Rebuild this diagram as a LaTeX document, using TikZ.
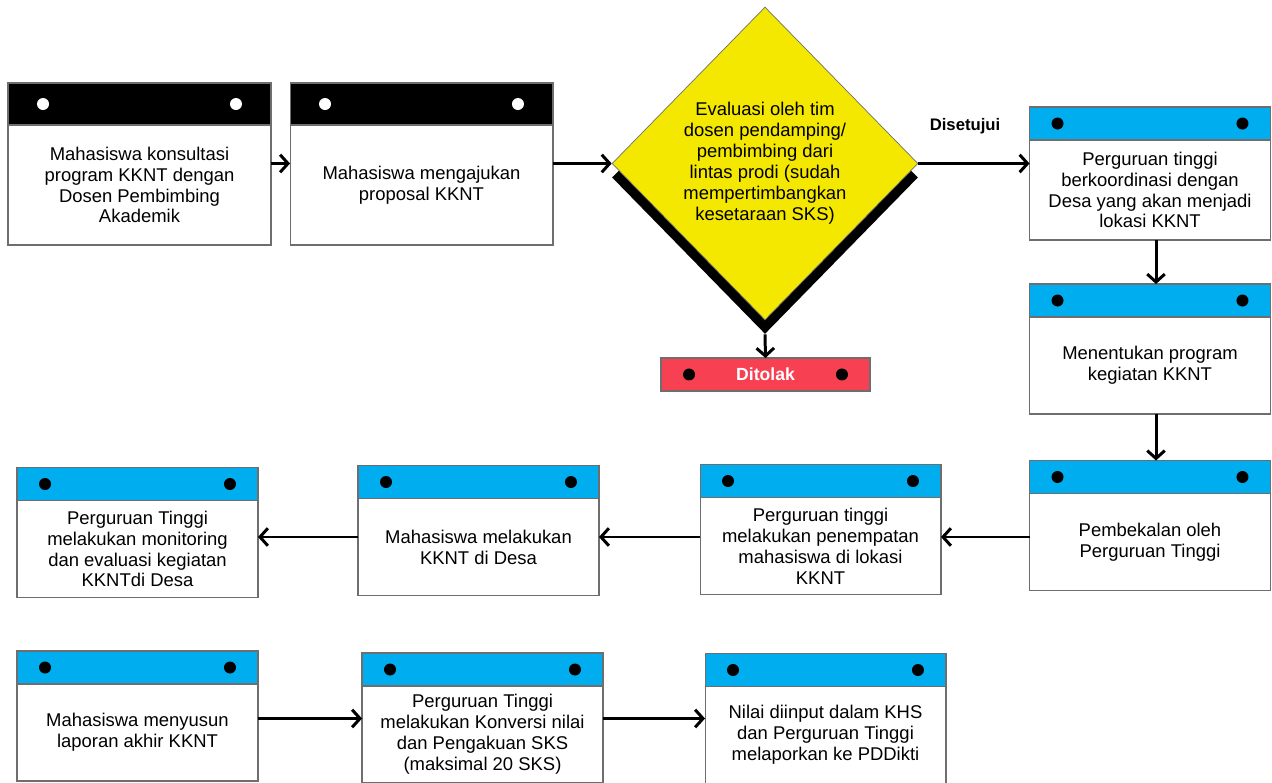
\documentclass[tikz,border=0pt]{standalone}
\usepackage{fontspec}
\setmainfont{Liberation Sans}
\usetikzlibrary{shapes.geometric,arrows.meta,positioning}
\definecolor{headblue}{RGB}{0,174,239}
\definecolor{decyellow}{RGB}{245,232,0}
\definecolor{rejectred}{RGB}{247,65,82}
\definecolor{edgegray}{RGB}{110,110,110}

\begin{document}
\begin{tikzpicture}[x=0.02cm, y=-0.02cm,
    body/.style={draw=edgegray, line width=0.6pt, fill=white, minimum width=4.82cm,
        minimum height=1.94cm, align=center, inner sep=0pt, outer sep=0pt,
        font=\fontsize{10.5}{11.9}\selectfont},
    head/.style={draw=edgegray, line width=0.6pt, fill=#1, minimum width=4.82cm,
        minimum height=0.66cm, inner sep=0pt, outer sep=0pt},
    flow/.style={line width=1.7pt, -{Straight Barb[length=4.5pt, width=10pt]}},
    lbl/.style={font=\fontsize{9.5}{11}\selectfont\bfseries}]
    \useasboundingbox (0,0) rectangle (1272,783);

    % First row
    \node[body, minimum width=5.26cm, minimum height=2.4cm] (b1) at (139.5,185)
        {Mahasiswa konsultasi\\program KKNT dengan\\Dosen Pembimbing\\Akademik};
    \node[head=black, minimum width=5.26cm, minimum height=0.84cm, above=0pt of b1] (h1) {};
    \node[body, minimum width=5.26cm, minimum height=2.4cm] (b2) at (421.5,185)
        {Mahasiswa mengajukan\\proposal KKNT};
    \node[head=black, minimum width=5.26cm, minimum height=0.84cm, above=0pt of b2] (h2) {};

    % Decision
    \node[diamond, fill=black, minimum width=6.12cm, minimum height=6.26cm,
        inner sep=0pt] (ds) at (765,177.5) {};
    \node[diamond, fill=decyellow, draw=edgegray, line width=0.4pt, minimum width=6.12cm,
        minimum height=6.26cm, inner sep=0pt, align=center,
        font=\fontsize{10.5}{11.9}\selectfont] (d) at (765,163.5)
        {Evaluasi oleh tim\\dosen pendamping/\\pembimbing dari\\lintas prodi (sudah\\mempertimbangkan\\kesetaraan SKS)};
    \node[draw=edgegray, line width=0.6pt, fill=rejectred, minimum width=4.18cm,
        minimum height=0.66cm, inner sep=0pt, outer sep=0pt, text=white,
        font=\fontsize{10}{12}\selectfont\bfseries] (dt) at (765.5,374.5) {Ditolak};

    % Right column
    \node[body, minimum height=2cm] (b3) at (1150,190)
        {Perguruan tinggi\\berkoordinasi dengan\\Desa yang akan menjadi\\lokasi KKNT};
    \node[head=headblue, above=0pt of b3] (h3) {};
    \node[body] (b4) at (1150,365.5) {Menentukan program\\kegiatan KKNT};
    \node[head=headblue, above=0pt of b4] (h4) {};
    \node[body] (b5) at (1150,542) {Pembekalan oleh\\Perguruan Tinggi};
    \node[head=headblue, above=0pt of b5] (h5) {};

    % Second row
    \node[body] (b6) at (820.5,546)
        {Perguruan tinggi\\melakukan penempatan\\mahasiswa di lokasi\\KKNT};
    \node[head=headblue, above=0pt of b6] (h6) {};
    \node[body] (b7) at (478.5,547) {Mahasiswa melakukan\\KKNT di Desa};
    \node[head=headblue, above=0pt of b7] (h7) {};
    \node[body] (b8) at (137.5,549)
        {Perguruan Tinggi\\melakukan monitoring\\dan evaluasi kegiatan\\KKNTdi Desa};
    \node[head=headblue, above=0pt of b8] (h8) {};

    % Third row
    \node[body] (b9) at (137.5,732.5) {Mahasiswa menyusun\\laporan akhir KKNT};
    \node[head=headblue, above=0pt of b9] (h9) {};
    \node[body] (b10) at (482.5,734.5)
        {Perguruan Tinggi\\melakukan Konversi nilai\\dan Pengakuan SKS\\(maksimal 20 SKS)};
    \node[head=headblue, above=0pt of b10] (h10) {};
    \node[body] (b11) at (825.5,735)
        {Nilai diinput dalam KHS\\dan Perguruan Tinggi\\melaporkan ke PDDikti};
    \node[head=headblue, above=0pt of b11] (h11) {};

    % Dots on the headers
    \foreach \h/\c/\d in {h1/white/0.7cm, h2/white/0.7cm, h3/black/0.56cm,
        h4/black/0.56cm, h5/black/0.56cm, h6/black/0.56cm, h7/black/0.56cm,
        h8/black/0.56cm, h9/black/0.56cm, h10/black/0.56cm, h11/black/0.56cm,
        dt/black/0.56cm} {
        \fill[\c] ([xshift=\d]\h.west) circle (0.12cm) ([xshift=-\d]\h.east) circle (0.12cm);
    }

    % Connectors
    \draw[flow] (b1.east |- d.west) -- (b2.west |- d.west);
    \draw[flow] (b2.east |- d.west) -- (d.west);
    \draw[flow] (d.east) -- (b3.west |- d.east)
        node[lbl, pos=0.42, above=0.45cm] (ok) {Disetujui};
    \draw[flow] (ds.south) -- (dt.north);
    \draw[flow] ([xshift=0.12cm]b3.south) -- ([xshift=0.12cm]h4.north);
    \draw[flow] ([xshift=0.12cm]b4.south) -- ([xshift=0.12cm]h5.north);
    \coordinate (r2) at ([yshift=0.1cm]b5.west);
    \draw[flow] (r2) -- (r2 -| b6.east);
    \draw[flow] (r2 -| b6.west) -- (r2 -| b7.east);
    \draw[flow] (r2 -| b7.west) -- (r2 -| b8.east);
    \coordinate (r3) at ([yshift=0.28cm]b9.east);
    \draw[flow] (r3) -- (r3 -| b10.west);
    \draw[flow] (r3 -| b10.east) -- (r3 -| b11.west);
\end{tikzpicture}
\end{document}
